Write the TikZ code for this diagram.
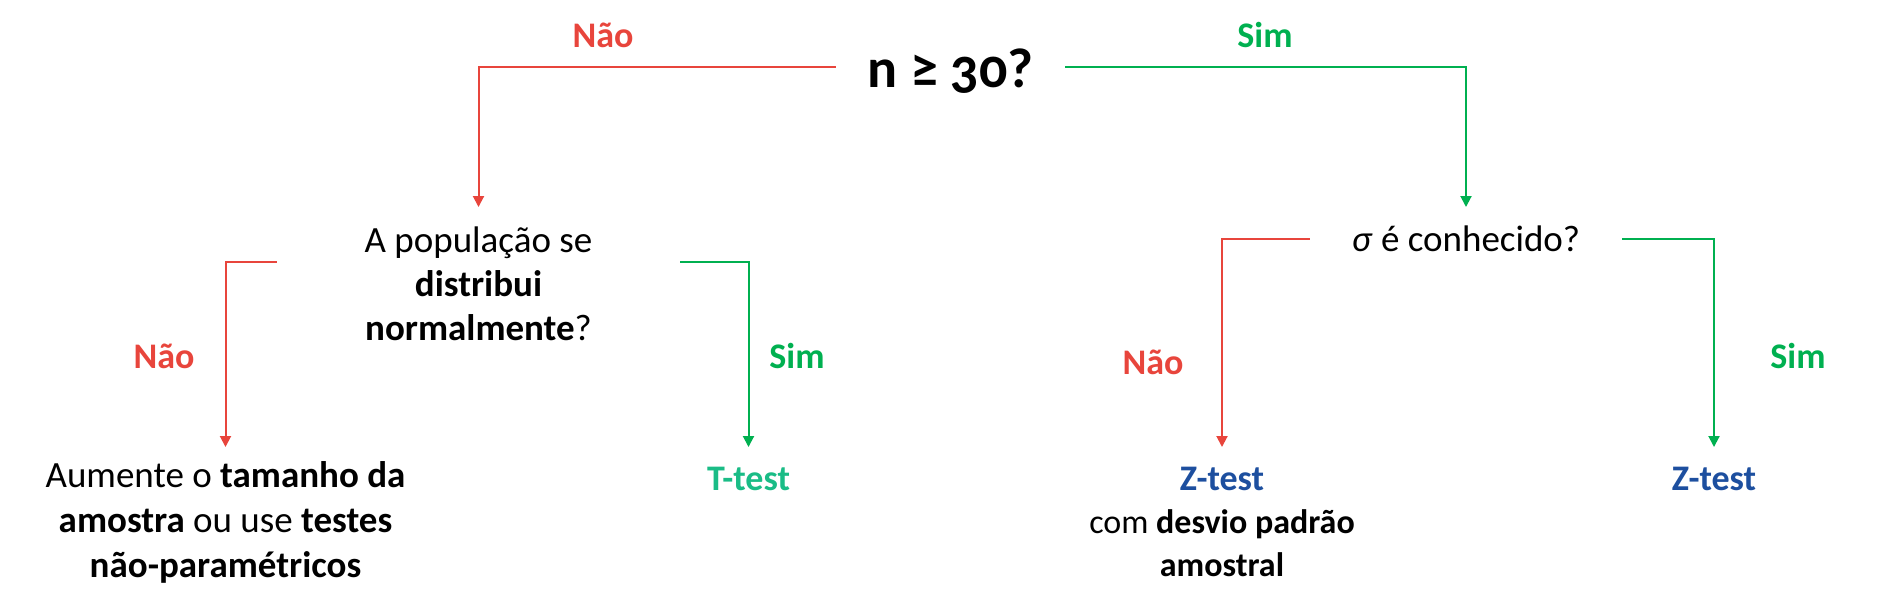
\documentclass[tikz,border=0pt]{standalone}
\usepackage{fontspec}
\setmainfont{Carlito}
\newfontfamily\titlefont[Numbers=OldStyle]{Carlito}
\usetikzlibrary{arrows.meta}
\definecolor{nred}{HTML}{E8453C}
\definecolor{sgreen}{HTML}{00B050}
\definecolor{tgreen}{HTML}{1ABC86}
\definecolor{zblue}{HTML}{1D4F9F}
\tikzset{
  body/.style={font=\fontsize{37}{44}\selectfont, align=center, inner xsep=0pt, anchor=north},
  lab/.style={font=\fontsize{36}{43}\selectfont\bfseries, inner sep=0pt, anchor=base},
  noline/.style={draw=nred, line width=2pt, -{Triangle[width=11pt,length=11pt]}},
  yesline/.style={draw=sgreen, line width=2pt, -{Triangle[width=11pt,length=11pt]}},
}
\begin{document}
\begin{tikzpicture}[x=1pt,y=-1pt]
\useasboundingbox (0,0) rectangle (1887,614);
% question nodes
\node[font=\titlefont\fontsize{56}{60}\selectfont\bfseries, minimum width=229pt, inner sep=0pt, anchor=base] (q) at (950.5,87) {n ≥ 30?};
\node[body, minimum width=403pt, inner ysep=20pt] (pop) at (478.5,207) {A população se\\\textbf{distribui}\\\textbf{normalmente}?};
\node[body, minimum width=312pt, inner ysep=19pt] (sig) at (1466,207) {\textit{σ} é conhecido?};
% leaves
\node[body, font=\fontsize{37}{45}\selectfont, inner ysep=14pt] (big) at (225.5,447) {Aumente o \textbf{tamanho da}\\\textbf{amostra} ou use \textbf{testes}\\\textbf{não-paramétricos}};
\node[body, font=\fontsize{36}{43}\selectfont\bfseries, text=tgreen, inner ysep=20pt] (tt) at (748.5,447) {T-test};
\node[body, font=\fontsize{34}{43}\selectfont, inner ysep=20pt] (zl) at (1222,447) {\textcolor{zblue}{\fontsize{36}{43}\selectfont\textbf{Z-test}}\\com \textbf{desvio padrão}\\\textbf{amostral}};
\node[body, font=\fontsize{36}{43}\selectfont\bfseries, text=zblue, inner ysep=20pt] (zr) at (1714,447) {Z-test};
% connectors
\draw[noline] ([yshift=20pt]q.base west) -| (pop.north);
\draw[yesline] ([yshift=20pt]q.base east) -| (sig.north);
\draw[noline] ([yshift=-55pt]pop.north west) -| (big.north);
\draw[yesline] ([yshift=-55pt]pop.north east) -| (tt.north);
\draw[noline] ([yshift=-32pt]sig.north west) -| (zl.north);
\draw[yesline] ([yshift=-32pt]sig.north east) -| (zr.north);
% labels
\node[lab, text=nred] (l1) at (603,47) {Não};
\node[lab, text=sgreen] (l2) at (1265,47) {Sim};
\node[lab, text=nred] (l3) at (164,368) {Não};
\node[lab, text=sgreen] (l4) at (797,368) {Sim};
\node[lab, text=nred] (l5) at (1153,374) {Não};
\node[lab, text=sgreen] (l6) at (1798,368) {Sim};
\end{tikzpicture}
\end{document}
